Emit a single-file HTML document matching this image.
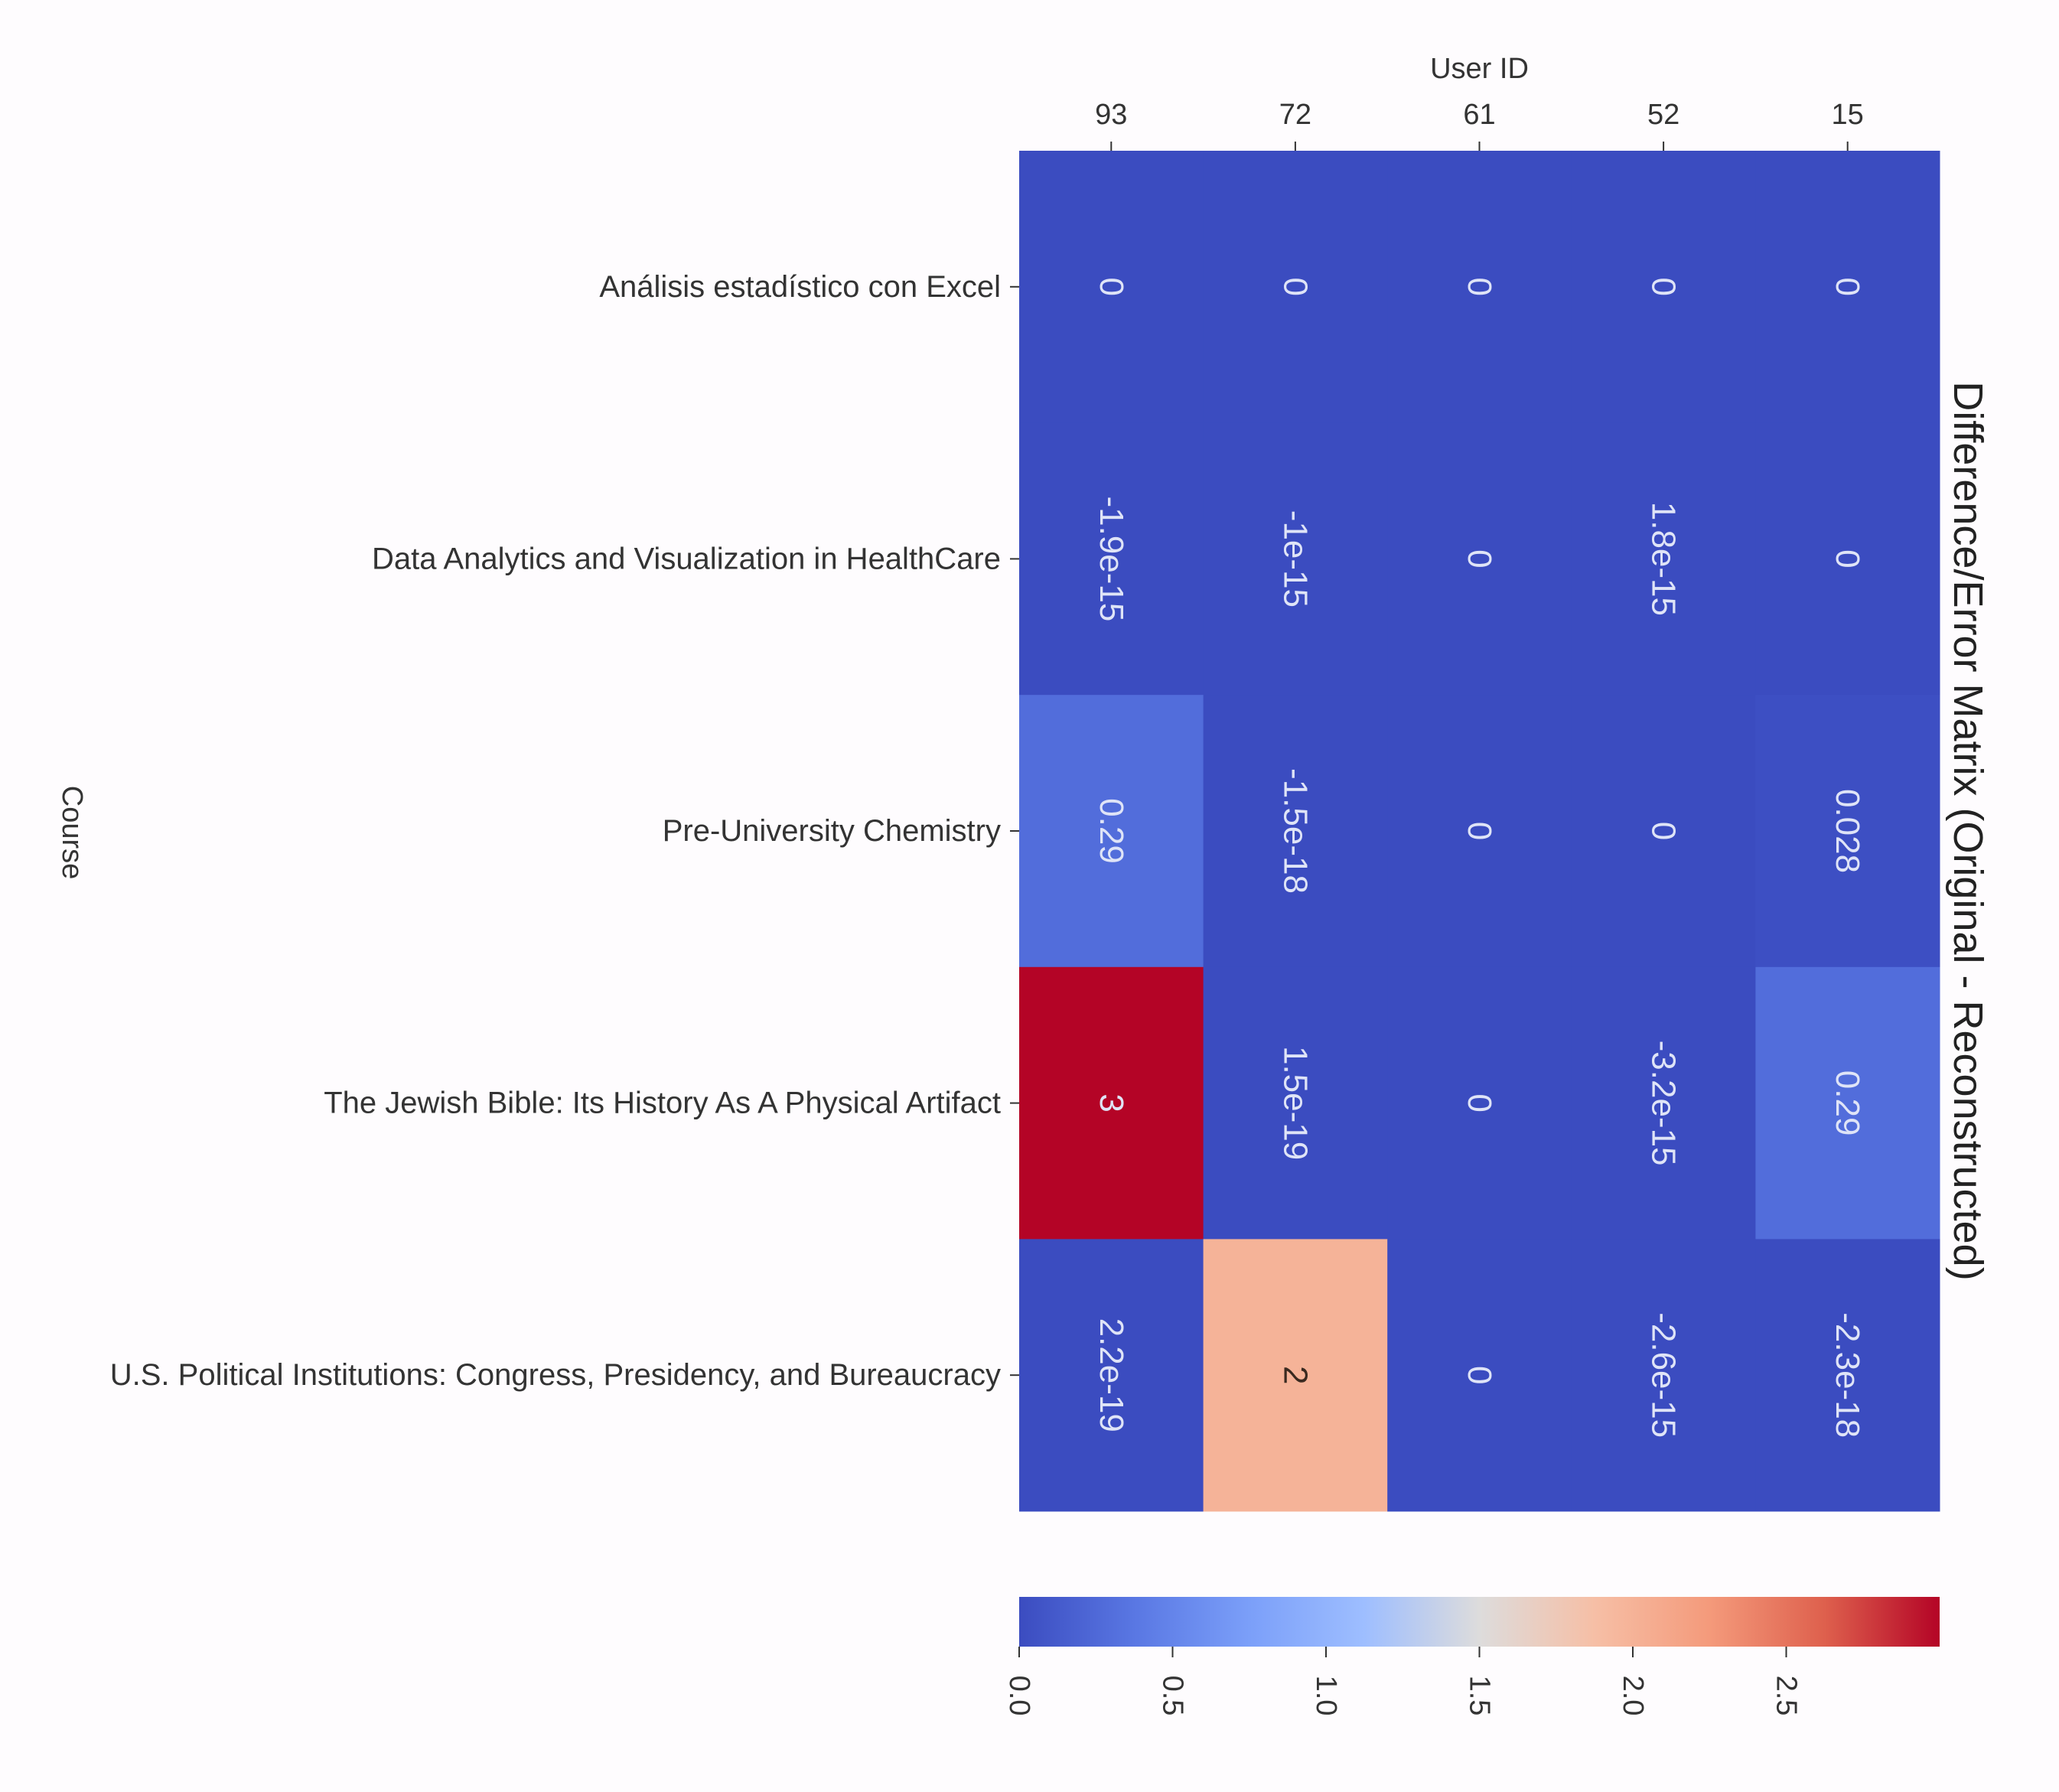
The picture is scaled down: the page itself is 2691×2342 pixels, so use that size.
<!DOCTYPE html>
<html><head><meta charset="utf-8">
<style>
html,body{margin:0;padding:0;background:#fefcfe;}
svg{display:block;font-family:"Liberation Sans","DejaVu Sans",sans-serif;}
</style></head>
<body>
<svg id="chart" width="2691" height="2342" viewBox="0 0 2691 2342" xmlns="http://www.w3.org/2000/svg">
<defs>
<linearGradient id="cbgrad" x1="0" y1="0" x2="1" y2="0">
<stop offset="0" stop-color="#3b4cc0"/>
<stop offset="0.125" stop-color="#5977e3"/>
<stop offset="0.25" stop-color="#7b9ff9"/>
<stop offset="0.375" stop-color="#9ebeff"/>
<stop offset="0.5" stop-color="#dddcdc"/>
<stop offset="0.625" stop-color="#f6bfa6"/>
<stop offset="0.75" stop-color="#f49a7b"/>
<stop offset="0.875" stop-color="#de604d"/>
<stop offset="1" stop-color="#b40426"/>
</linearGradient>
</defs>
<g id="plot"></g>
</svg>
<script>
const users = ["93","72","61","52","15"];
const courses = ["Análisis estadístico con Excel","Data Analytics and Visualization in HealthCare","Pre-University Chemistry","The Jewish Bible: Its History As A Physical Artifact","U.S. Political Institutions: Congress, Presidency, and Bureaucracy"];
const values = [
 [0,0,0,0,0],
 [-1.9e-15,-1e-15,0,1.8e-15,0],
 [0.29,-1.5e-18,0,0,0.028],
 [3,1.5e-19,0,-3.2e-15,0.29],
 [2.2e-19,2,0,-2.6e-15,-2.3e-18]
];
const labels = [
 ["0","0","0","0","0"],
 ["-1.9e-15","-1e-15","0","1.8e-15","0"],
 ["0.29","-1.5e-18","0","0","0.028"],
 ["3","1.5e-19","0","-3.2e-15","0.29"],
 ["2.2e-19","2","0","-2.6e-15","-2.3e-18"]
];
const cbTicks = [0,0.5,1.0,1.5,2.0,2.5];
const cbTickLabels = ["0.0","0.5","1.0","1.5","2.0","2.5"];

const NS="http://www.w3.org/2000/svg";
const g=document.getElementById('plot');
const L=1332,R=2535,T=197,B=1975;
const vmin=0,vmax=3;
const cw=(R-L)/users.length, rh=(B-T)/courses.length;
const xPos=i=>L+cw*i, yPos=j=>T+rh*j;
const cbL=L,cbR=R,cbT=2087,cbB=2152;
const cbX=v=>cbL+(v-vmin)/(vmax-vmin)*(cbR-cbL);

const stops=[[0,[59,76,192]],[0.125,[89,119,227]],[0.25,[123,159,249]],[0.375,[158,190,255]],[0.5,[221,220,220]],[0.625,[246,191,166]],[0.75,[244,154,123]],[0.875,[222,96,77]],[1,[180,4,38]]];
function cmap(v){let t=Math.max(0,Math.min(1,(v-vmin)/(vmax-vmin)));
 for(let k=0;k<stops.length-1;k++){const a=stops[k],b=stops[k+1];
  if(t<=b[0]){const f=(t-a[0])/(b[0]-a[0]);const c=a[1].map((x,i)=>Math.round(x+(b[1][i]-x)*f));return {c:'rgb('+c.join(',')+')',t};}}
 return {c:'rgb(180,4,38)',t:1};}
function el(tag,attrs,txt){const e=document.createElementNS(NS,tag);for(const k in attrs)e.setAttribute(k,attrs[k]);if(txt!==undefined)e.textContent=txt;g.appendChild(e);return e;}

for(let j=0;j<courses.length;j++){for(let i=0;i<users.length;i++){
 const m=cmap(values[j][i]);
 const r=el('rect',{x:xPos(i),y:yPos(j),width:cw+0.5,height:rh+0.5,fill:m.c});
 
 
 const cx=xPos(i)+cw/2, cy=yPos(j)+rh/2;
 const dark=(m.t>0.3&&m.t<0.8);
 const t=el('text',{x:cx,y:cy,'font-size':44,fill:dark?'#3a2a20':'#dfe4f7','text-anchor':'middle','dominant-baseline':'central',transform:`rotate(90 ${cx} ${cy})`},labels[j][i]);
 
 
}}
for(let i=0;i<users.length;i++){const cx=xPos(i)+cw/2;
 el('line',{x1:cx,x2:cx,y1:T-12,y2:T,stroke:'#333','stroke-width':2});
 const t=el('text',{x:cx,y:162,'font-size':38,fill:'#333','text-anchor':'middle'},users[i]);
 
 
}
const xt=el('text',{x:(L+R)/2,y:102,'font-size':38,fill:'#333','text-anchor':'middle'},'User ID');


for(let j=0;j<courses.length;j++){const cy=yPos(j)+rh/2;
 el('line',{x1:L-12,x2:L,y1:cy,y2:cy,stroke:'#333','stroke-width':2});
 const t=el('text',{x:L-24,y:cy,'font-size':40,fill:'#333','text-anchor':'end','dominant-baseline':'central'},courses[j]);
 
 
}
const yt=el('text',{x:94,y:1088,'font-size':38,fill:'#333','text-anchor':'middle','dominant-baseline':'central',transform:'rotate(90 94 1088)'},'Course');


const tt=el('text',{x:2572,y:1086,'font-size':54,fill:'#222','text-anchor':'middle','dominant-baseline':'central',transform:'rotate(90 2572 1086)'},'Difference/Error Matrix (Original - Reconstructed)');


const cb=el('rect',{x:cbL,y:cbT,width:cbR-cbL,height:cbB-cbT,fill:'url(#cbgrad)'});


for(let k=0;k<cbTicks.length;k++){const x=cbX(cbTicks[k]);
 el('line',{x1:x,x2:x,y1:cbB,y2:cbB+14,stroke:'#333','stroke-width':2});
 const t=el('text',{x:x,y:2216,'font-size':38,fill:'#333','text-anchor':'middle','dominant-baseline':'central',transform:`rotate(90 ${x} 2216)`},cbTickLabels[k]);
 
 
}
</script>
</body></html>
